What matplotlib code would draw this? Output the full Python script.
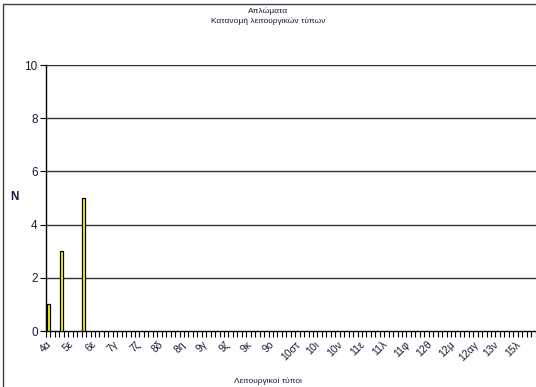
import matplotlib
matplotlib.use("Agg")
import matplotlib.pyplot as plt
from matplotlib.patches import Rectangle
from matplotlib.transforms import ScaledTranslation

# ---- data ----
title_lines = ["Απλώματα", "Κατανομή λειτουργικών τύπων"]
x_title = "Λειτουργικοί τύποι"
y_title = "N"
tick_labels = ["4α", "5ε", "6ε", "7γ", "7ζ", "8δ", "8η", "9γ", "9ζ", "9κ", "9ο",
               "10στ", "10ι", "10ν", "11ε", "11λ", "11φ", "12θ", "12μ", "12αγ",
               "13ν", "15λ"]
label_step = 5
n_categories = 110
bar_index = [0, 3, 8]
bar_values = [1, 3, 5]
y_ticks = [0, 2, 4, 6, 8, 10]

plt.rcParams['font.family'] = ['Liberation Sans', 'DejaVu Sans']

W, H = 536, 387
fig = plt.figure(figsize=(W / 100, H / 100), dpi=100)
fig.patch.set_facecolor("white")

# outer chart border (cropped at right and bottom)
fig.patches.append(Rectangle((3 / W, -0.2), 1.5, 1 - 4 / H + 0.2,
                             transform=fig.transFigure, fill=False,
                             edgecolor="#404040", linewidth=1.0, clip_on=False))

left, right = 46 / W, (46 + n_categories * 4.45) / W
bottom, top = (H - 331) / H, (H - 65) / H
ax = fig.add_axes([left, bottom, right - left, top - bottom])
ax.set_facecolor("white")

ax.bar(bar_index, bar_values, width=0.62, color="#FFFF00",
       edgecolor="black", linewidth=0.9, zorder=3)

ax.set_xlim(-0.5, n_categories - 0.5)
ax.set_ylim(0, 10)
ax.set_yticks(y_ticks)
ax.set_yticklabels([str(v) for v in y_ticks], fontsize=8.5, color="#1a1a3a")
for v in y_ticks[1:]:
    ax.axhline(v, color="#333333", linewidth=1.0, zorder=1)

# category boundary ticks
ax.set_xticks([i - 0.5 for i in range(n_categories + 1)])
ax.set_xticklabels([])
# labels on every 5th category
label_pos = [i * label_step for i in range(len(tick_labels))]
ax.set_xticks(label_pos, minor=True)
ax.set_xticklabels(tick_labels, minor=True, rotation=45, fontsize=7.5,
                   ha="center", va="top", color="#1a1a3a")
ax.tick_params(axis="x", which="major", length=4, width=0.8, color="black")
ax.tick_params(axis="x", which="minor", length=0, pad=6)
ax.tick_params(axis="y", length=4, width=0.8, color="black", pad=2)
offset = ScaledTranslation(-2 / 100, 0, fig.dpi_scale_trans)
for lbl in ax.get_xticklabels(minor=True):
    lbl.set_transform(lbl.get_transform() + offset)

for s in ["top", "right"]:
    ax.spines[s].set_visible(False)
ax.spines["left"].set_color("black")
ax.spines["bottom"].set_color("black")
ax.spines["left"].set_linewidth(1.0)
ax.spines["bottom"].set_linewidth(1.0)

fig.text(268 / W, 1 - 11 / H, title_lines[0], ha="center", va="center",
         fontsize=6, color="#1a1a3a")
fig.text(268 / W, 1 - 21 / H, title_lines[1], ha="center", va="center",
         fontsize=6, color="#1a1a3a")
fig.text(268 / W, 1 - 381 / H, x_title, ha="center", va="center",
         fontsize=6, color="#1a1a3a")
fig.text(14 / W, 1 - 197 / H, y_title, ha="center", va="center",
         fontsize=8.5, fontweight="bold", color="#1a1a3a")

fig.savefig("out.png", dpi=100, facecolor="white")
